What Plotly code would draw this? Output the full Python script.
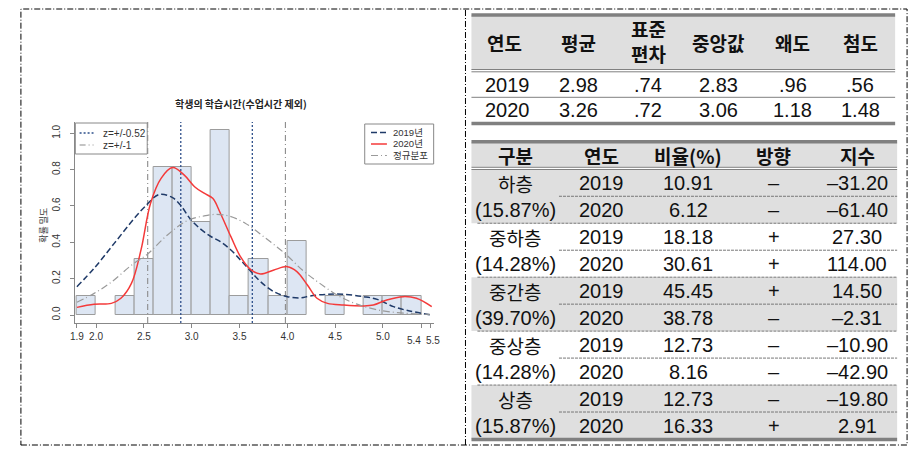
import plotly.graph_objects as go

W, H = 920, 464

# ---- histogram (density, bin width 0.2) ----
bin_left = [1.8, 2.2, 2.4, 2.6, 2.8, 3.0, 3.2, 3.4, 3.6, 3.8, 4.0, 4.4, 4.8, 5.0, 5.2]
density = [0.102, 0.102, 0.306, 0.816, 0.816, 0.510, 1.020, 0.102, 0.306, 0.102, 0.408,
           0.102, 0.102, 0.102, 0.102]

# ---- density curves ----
x2019 = [1.80, 1.98, 2.19, 2.40, 2.51, 2.66, 2.80, 2.89, 2.99, 3.10, 3.20, 3.30, 3.41,
         3.51, 3.62, 3.72, 3.86, 4.00, 4.14, 4.24, 4.42, 4.59, 4.80, 4.94, 5.11, 5.28, 5.49]
y2019 = [0.156, 0.257, 0.394, 0.532, 0.596, 0.663, 0.646, 0.600, 0.525, 0.470, 0.432,
         0.404, 0.358, 0.303, 0.239, 0.183, 0.128, 0.101, 0.094, 0.105, 0.114, 0.114,
         0.101, 0.086, 0.046, 0.022, 0.002]

x2020 = [1.80, 1.98, 2.16, 2.26, 2.37, 2.47, 2.57, 2.68, 2.80, 2.92, 3.03, 3.13, 3.22,
         3.30, 3.41, 3.51, 3.62, 3.72, 3.86, 4.00, 4.10, 4.21, 4.31, 4.42, 4.59, 4.80,
         4.90, 5.04, 5.21, 5.35, 5.51]
y2020 = [0.042, 0.059, 0.064, 0.092, 0.174, 0.358, 0.615, 0.752, 0.811, 0.771, 0.706,
         0.670, 0.642, 0.560, 0.431, 0.321, 0.248, 0.226, 0.248, 0.266, 0.239, 0.165,
         0.092, 0.064, 0.055, 0.050, 0.055, 0.083, 0.101, 0.092, 0.046]

xnorm = [1.80, 1.98, 2.16, 2.37, 2.54, 2.75, 2.96, 3.13, 3.26, 3.39, 3.56, 3.76, 3.98,
         4.16, 4.34, 4.54, 4.72, 4.92, 5.15, 5.49]
ynorm = [0.070, 0.119, 0.181, 0.274, 0.336, 0.442, 0.521, 0.545, 0.554, 0.545, 0.505,
         0.428, 0.336, 0.246, 0.174, 0.104, 0.061, 0.031, 0.013, 0.003]

z052_lines = [2.886, 3.634]
z1_lines = [2.54, 3.98]

x_ticks = [1.8, 2.0, 2.5, 3.0, 3.5, 4.0, 4.5, 5.0, 5.4, 5.5]
x_ticktext = ["1.9", "2.0", "2.5", "3.0", "3.5", "4.0", "4.5", "5.0", "5.4", "5.5"]
y_ticks = [0.0, 0.2, 0.4, 0.6, 0.8, 1.0]

x_range = [1.776, 5.53]
y_range = [-0.044, 1.062]

# ---- table 1 ----
t1_header = ["연도", "평균", "표준<br>편차", "중앙값", "왜도", "첨도"]
t1_2019 = ["2019", "2.98", ".74", "2.83", ".96", ".56"]
t1_2020 = ["2020", "3.26", ".72", "3.06", "1.18", "1.48"]

# ---- table 2 ----
t2_header = ["구분", "연도", "비율(%)", "방향", "지수"]
groups = ["하층", "중하층", "중간층", "중상층", "상층"]
group_pct = ["(15.87%)", "(14.28%)", "(39.70%)", "(14.28%)", "(15.87%)"]
years = ["2019", "2020"] * 5
ratio = [10.91, 6.12, 18.18, 30.61, 45.45, 38.78, 12.73, 8.16, 12.73, 16.33]
direction = ["-", "-", "+", "+", "+", "-", "-", "-", "-", "+"]
index_val = [-31.20, -61.40, 27.30, 114.00, 14.50, -2.31, -10.90, -42.90, -19.80, 2.91]

KR = "Noto Sans CJK KR"
NUM = "Liberation Sans, Arial"
NAVY = "#1f3a68"
RED = "#f43a3a"
GRAY = "#9a9a9a"

Z052_STYLE = dict(color="#2d4f8a", width=1.3, dash="2px,2px")
Z1_STYLE = dict(color="#8a8a8a", width=1.1, dash="6px,3px,1px,3px")
S2019 = dict(color=NAVY, width=1.5, dash="6px,3px")
S2020 = dict(color=RED, width=1.5)
SNORM = dict(color=GRAY, width=1.2, dash="7px,3px,1px,3px")


def vlines(xs, lo, hi):
    xx, yy = [], []
    for v in xs:
        xx += [v, v, None]
        yy += [lo, hi, None]
    return xx, yy


fig = go.Figure()

fig.add_trace(go.Bar(
    x=bin_left, y=density, width=0.2, offset=0,
    marker=dict(color="#dde6f3", line=dict(color="#9c9c9c", width=1)),
    hoverinfo="skip",
))

vx, vy = vlines(z052_lines, y_range[0], y_range[1])
fig.add_trace(go.Scatter(x=vx, y=vy, mode="lines", name="z=+/-0.52", line=Z052_STYLE))
vx, vy = vlines(z1_lines, y_range[0], y_range[1])
fig.add_trace(go.Scatter(x=vx, y=vy, mode="lines", name="z=+/-1", line=Z1_STYLE))

fig.add_trace(go.Scatter(x=x2019, y=y2019, mode="lines", name="2019년",
                         line=dict(shape="spline", **S2019)))
fig.add_trace(go.Scatter(x=x2020, y=y2020, mode="lines", name="2020년",
                         line=dict(shape="spline", **S2020)))
fig.add_trace(go.Scatter(x=xnorm, y=ynorm, mode="lines", name="정규분포",
                         line=dict(shape="spline", **SNORM)))

shapes = []
annotations = []


def X(p):
    return p / W


def Y(p):
    return 1 - p / H


def hline(x0, x1, y, color="#808080", width=1, dash="solid"):
    shapes.append(dict(type="line", xref="paper", yref="paper", x0=X(x0), x1=X(x1),
                       y0=Y(y), y1=Y(y), line=dict(color=color, width=width, dash=dash)))


def band(x0, x1, y0, y1, fill="#dfdfdf", layer="below", edge=None):
    shapes.append(dict(type="rect", xref="paper", yref="paper", x0=X(x0), x1=X(x1),
                       y0=Y(y1), y1=Y(y0), fillcolor=fill, layer=layer,
                       line=dict(width=1, color=edge) if edge else dict(width=0)))


def txt(x, y, s, size=20, family=NUM, bold=False, color="#111", anchor="center"):
    annotations.append(dict(x=X(x), y=Y(y), xref="paper", yref="paper",
                            text=f"<b>{s}</b>" if bold else s, showarrow=False,
                            xanchor=anchor, yanchor="middle",
                            font=dict(size=size, family=family, color=color)))


# outer dash-dot frame and divider
shapes.append(dict(type="rect", xref="paper", yref="paper", x0=X(16), x1=X(907),
                   y0=Y(445), y1=Y(9), line=dict(color="#000", width=1, dash="6px,2px,1px,2px")))
shapes.append(dict(type="line", xref="paper", yref="paper", x0=X(463), x1=X(463),
                   y0=Y(445), y1=Y(9), line=dict(color="#000", width=1, dash="6px,2px,1px,2px")))

# table 1
t1_x = [502, 577, 647, 717, 792, 860]
band(469, 895, 15, 70)
hline(469, 895, 15, width=3.5)
hline(469, 895, 69.5)
hline(469, 895, 71.8)
hline(469, 895, 97.3)
hline(469, 895, 123.5, width=3.5)
for i, h in enumerate(t1_header):
    txt(t1_x[i], 42 if "<br>" not in h else 41, h, size=19, family=KR, bold=True)
for i in range(len(t1_x)):
    txt(t1_x[i] + (3 if i == 0 else 0), 84.5, t1_2019[i])
    txt(t1_x[i] + (3 if i == 0 else 0), 109.5, t1_2020[i])

# table 2
t2_x = [513, 600, 687, 773, 857]
row_top = 169.3
row_h = 26.97
band(469, 897, 142, 167)
hline(469, 897, 141.8, width=3.5)
hline(469, 897, 167.3)
hline(469, 897, 169.5)
for g in range(5):
    y0 = row_top + 2 * g * row_h
    if g % 2 == 0:
        band(469, 897, y0, y0 + 2 * row_h)
    hline(557, 897, y0 + row_h, color="#777", dash="3px,1px")
    if g < 4:
        hline(475, 897, y0 + 2 * row_h, color="#777", dash="3px,1px")
    txt(t2_x[0], y0 + 0.5 * row_h + 0.5, groups[g], size=19, family=KR)
    txt(t2_x[0], y0 + 1.5 * row_h + 0.5, group_pct[g])
hline(469, 897, 439.5, width=3.5)
for i, h in enumerate(t2_header):
    txt(t2_x[i], 155, h, size=19, family=KR, bold=True)
for r in range(10):
    yc = row_top + (r + 0.5) * row_h + 0.5
    txt(t2_x[1], yc, years[r])
    txt(t2_x[2], yc, f"{ratio[r]:.2f}")
    txt(t2_x[3], yc, "–" if direction[r] == "-" else "+")
    txt(t2_x[4], yc, f"{index_val[r]:.2f}".replace("-", "–"))

# chart title and y label
txt(237, 103, "학생의 학습시간(수업시간 제외)", size=10, family=KR, bold=True, color="#222")
annotations.append(dict(x=X(38), y=Y(225), xref="paper", yref="paper", text="확률 밀도",
                        textangle=-90, showarrow=False, xanchor="center", yanchor="middle",
                        font=dict(size=9, family=KR, color="#333")))

# the last two x labels sit side by side, as in the original
txt(420.2, 340, x_ticktext[-2], size=10, family="Liberation Sans", color="#333", anchor="right")
txt(420.8, 340, x_ticktext[-1], size=10, family="Liberation Sans", color="#333", anchor="left")
x_ticktext_axis = x_ticktext[:-2] + ["", ""]

# legends drawn as boxes (R-style compact rows)
band(70.7, 143, 123, 154, fill="white", layer="above", edge="#888")
for name, st, yy in [("z=+/-0.52", Z052_STYLE, 133), ("z=+/-1", Z1_STYLE, 145)]:
    shapes.append(dict(type="line", xref="paper", yref="paper", x0=X(75), x1=X(89),
                       y0=Y(yy), y1=Y(yy), line=st))
    txt(97, yy, name, size=10, family="Liberation Sans", color="#333", anchor="left")

band(361.7, 431, 124, 164, fill="white", layer="above", edge="#888")
for name, st, yy in [("2019년", S2019, 132.5), ("2020년", S2020, 144), ("정규분포", SNORM, 155.5)]:
    shapes.append(dict(type="line", xref="paper", yref="paper", x0=X(368), x1=X(384),
                       y0=Y(yy), y1=Y(yy), line=st))
    txt(388, yy, name, size=9.5, family="Liberation Sans, Noto Sans CJK KR", color="#333",
        anchor="left")

fig.update_layout(
    width=W,
    height=H,
    margin=dict(l=0, r=0, t=0, b=0),
    paper_bgcolor="white",
    plot_bgcolor="white",
    bargap=0,
    showlegend=False,
    shapes=shapes,
    annotations=annotations,
    xaxis=dict(
        domain=[X(70), X(431)], range=x_range,
        tickvals=x_ticks, ticktext=x_ticktext_axis, tickangle=0,
        showgrid=False, zeroline=False, showline=True, linecolor="#888",
        ticks="outside", ticklen=4, tickcolor="#888",
        tickfont=dict(size=10, family="Liberation Sans", color="#333"),
        anchor="y",
    ),
    yaxis=dict(
        domain=[Y(323), Y(122)], range=y_range,
        tickvals=y_ticks, tickformat=".1f", tickangle=-90,
        showgrid=False, zeroline=False, showline=True, linecolor="#888",
        ticks="outside", ticklen=4, tickcolor="#888", ticklabelstandoff=6,
        tickfont=dict(size=10, family="Liberation Sans", color="#333"),
        anchor="x",
    ),
)

fig.write_html("out.html", config={"displayModeBar": False},
               post_script="document.body.style.margin='0px';")
